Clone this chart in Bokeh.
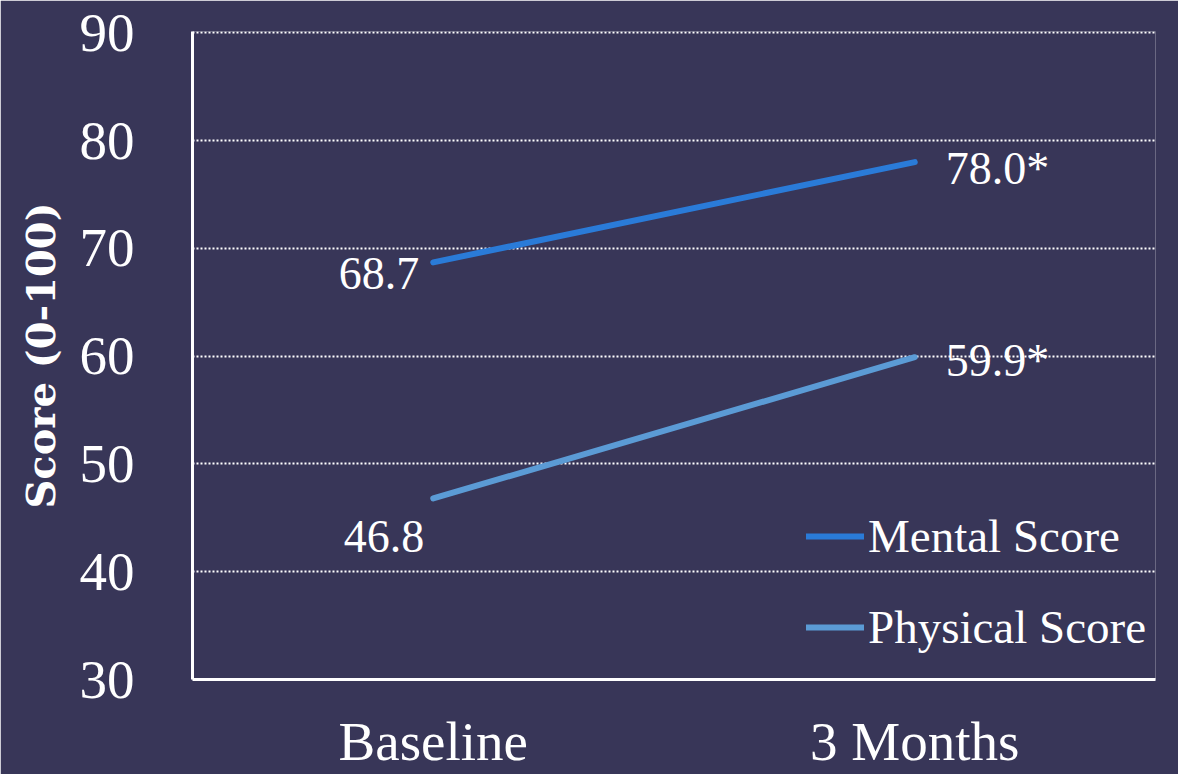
from bokeh.plotting import figure
from bokeh.models import FactorRange, Range1d, FixedTicker, Legend, LegendItem, ColumnDataSource
from bokeh.core.properties import value
from bokeh.embed import file_html
from bokeh.resources import INLINE

categories = ["Baseline", "3 Months"]
mental = [68.7, 78.0]
physical = [46.8, 59.9]
mental_labels = ["68.7", "78.0*"]
physical_labels = ["46.8", "59.9*"]
y_ticks = [30, 40, 50, 60, 70, 80, 90]

BG = "#383658"
MENTAL_C = "#2a7bd8"
PHYS_C = "#5b9bd5"
SERIF = "Liberation Serif"

p = figure(width=1178, height=774, output_backend="svg", toolbar_location=None,
           x_range=FactorRange(*categories), y_range=Range1d(30, 90.12),
           min_border_left=192, min_border_right=23, min_border_top=31, min_border_bottom=95)
p.background_fill_color = BG
p.border_fill_color = BG
p.outline_line_color = None

# grid
p.xgrid.grid_line_color = None
p.ygrid.ticker = FixedTicker(ticks=y_ticks)
p.ygrid.grid_line_color = "white"
p.ygrid.grid_line_width = 2
p.ygrid.grid_line_dash = "2 2"

# axes
p.yaxis.ticker = FixedTicker(ticks=y_ticks)
for ax in (p.xaxis[0], p.yaxis[0]):
    ax.axis_line_color = "white"
    ax.axis_line_width = 3
    ax.major_tick_line_color = None
    ax.minor_tick_line_color = None
    ax.major_label_text_color = "white"
    ax.major_label_text_font = SERIF
p.yaxis.major_label_text_font_size = "55px"
p.yaxis.major_label_standoff = 52
p.xaxis.major_label_text_font_size = "55px"
p.xaxis.major_label_standoff = 25
p.yaxis.axis_label = "Score (0-100)"
p.yaxis.axis_label_text_font = "DejaVu Serif"
p.yaxis.axis_label_text_font_style = "bold"
p.yaxis.axis_label_text_font_size = "40px"
p.yaxis.axis_label_text_color = "white"
p.yaxis.axis_label_standoff = 13

src_m = ColumnDataSource(dict(x=categories, y=mental, t=mental_labels))
src_p = ColumnDataSource(dict(x=categories, y=physical, t=physical_labels))

lm = p.line("x", "y", source=src_m, line_color=MENTAL_C, line_width=6, line_cap="round")
lp = p.line("x", "y", source=src_p, line_color=PHYS_C, line_width=6, line_cap="round")

# data labels
label_style = dict(text_color="white", text_font=value(SERIF), text_font_size="46px")
p.text(x=[categories[0]], y=[mental[0]], text=[mental_labels[0]], text_align="right",
       text_baseline="top", x_offset=-14, y_offset=-4, **label_style)
p.text(x=[categories[0]], y=[physical[0]], text=[physical_labels[0]], text_align="right",
       text_baseline="top", x_offset=-9, y_offset=23, **label_style)
p.text(x=[categories[1]], y=[mental[1]], text=[mental_labels[1]], text_align="left",
       text_baseline="alphabetic", x_offset=31, y_offset=6, **label_style)
p.text(x=[categories[1]], y=[physical[1]], text=[physical_labels[1]], text_align="left",
       text_baseline="alphabetic", x_offset=31, y_offset=3, **label_style)

legend = Legend(items=[LegendItem(label="Mental Score", renderers=[lm]),
                       LegendItem(label="Physical Score", renderers=[lp])],
                location=(614, 25))
legend.background_fill_alpha = 0
legend.border_line_color = None
legend.label_text_color = "white"
legend.label_text_font = SERIF
legend.label_text_font_size = "47px"
legend.glyph_width = 58
legend.label_standoff = 4
legend.spacing = 37
legend.padding = 0
legend.margin = 0
p.add_layout(legend)

open("out.html", "w").write(file_html(p, INLINE))
